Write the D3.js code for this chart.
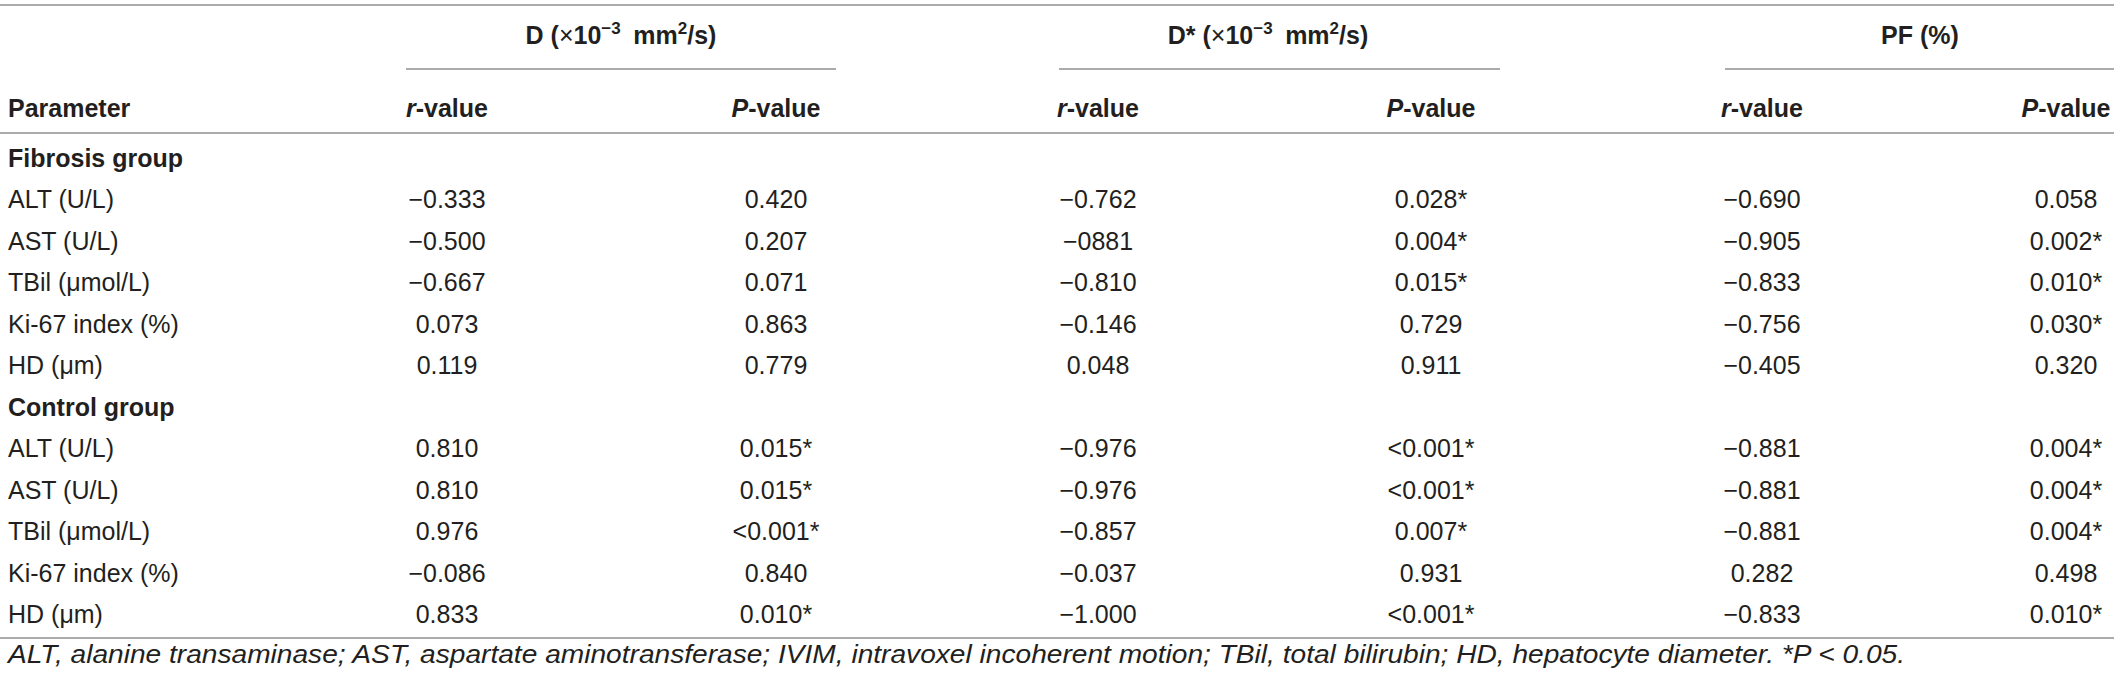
<!DOCTYPE html>
<html>
<head>
<meta charset="utf-8">
<script src="https://cdn.jsdelivr.net/npm/d3@7"></script>
<style>
  html, body { margin: 0; padding: 0; background: #fff; }
  svg { display: block; }
</style>
</head>
<body>
<div id="chart"></div>
<script>
// ---------------- data ----------------
const groups = ["Fibrosis group", "Control group"];
const parameters = ["ALT (U/L)", "AST (U/L)", "TBil (\u03bcmol/L)", "Ki-67 index (%)", "HD (\u03bcm)"];

const measures = ["D", "D*", "PF"];
const subColumns = ["r-value", "P-value"];

// Fibrosis group
const fibD_r   = ["\u22120.333", "\u22120.500", "\u22120.667", "0.073", "0.119"];
const fibD_p   = ["0.420", "0.207", "0.071", "0.863", "0.779"];
const fibDs_r  = ["\u22120.762", "\u22120881", "\u22120.810", "\u22120.146", "0.048"];
const fibDs_p  = ["0.028*", "0.004*", "0.015*", "0.729", "0.911"];
const fibPF_r  = ["\u22120.690", "\u22120.905", "\u22120.833", "\u22120.756", "\u22120.405"];
const fibPF_p  = ["0.058", "0.002*", "0.010*", "0.030*", "0.320"];

// Control group
const ctlD_r   = ["0.810", "0.810", "0.976", "\u22120.086", "0.833"];
const ctlD_p   = ["0.015*", "0.015*", "<0.001*", "0.840", "0.010*"];
const ctlDs_r  = ["\u22120.976", "\u22120.976", "\u22120.857", "\u22120.037", "\u22121.000"];
const ctlDs_p  = ["<0.001*", "<0.001*", "0.007*", "0.931", "<0.001*"];
const ctlPF_r  = ["\u22120.881", "\u22120.881", "\u22120.881", "0.282", "\u22120.833"];
const ctlPF_p  = ["0.004*", "0.004*", "0.004*", "0.498", "0.010*"];

const footnote = "ALT, alanine transaminase; AST, aspartate aminotransferase; IVIM, intravoxel incoherent motion; TBil, total bilirubin; HD, hepatocyte diameter. *P < 0.05.";

// ---------------- build table rows ----------------
const groupValues = [
  [fibD_r, fibD_p, fibDs_r, fibDs_p, fibPF_r, fibPF_p],
  [ctlD_r, ctlD_p, ctlDs_r, ctlDs_p, ctlPF_r, ctlPF_p]
];
const rows = [];
groups.forEach((g, gi) => {
  rows.push({ label: g, isGroup: true, cells: [] });
  parameters.forEach((p, pi) => {
    rows.push({ label: p, isGroup: false, cells: groupValues[gi].map(col => col[pi]) });
  });
});

// ---------------- layout ----------------
const W = 2120, H = 680;
const FONT = "'Liberation Sans', Arial, Helvetica, sans-serif";
const TXT = "#231f20";
const RULE = "#8f8f8f";
const FS = 25;

const svg = d3.select("#chart").append("svg")
  .attr("width", W).attr("height", H)
  .attr("font-family", FONT);

const colKeys = d3.range(6);
const x = d3.scaleOrdinal().domain(colKeys).range([447, 776, 1098, 1431, 1762, 2066]);
const y = d3.scaleBand().domain(d3.range(rows.length)).range([137, 635]);
const rowC = i => y(i) + y.bandwidth() / 2;

const spanX = d3.scaleOrdinal().domain(measures).range([621, 1268, 1920]);
const spanLine = d3.scaleOrdinal().domain(measures).range([[406, 836], [1059, 1500], [1725, 2114]]);

// rules
const ruleG = svg.append("g").attr("stroke", RULE).attr("stroke-width", 1.6);
ruleG.append("line").attr("x1", 0).attr("x2", 2114).attr("y1", 5).attr("y2", 5);
ruleG.append("line").attr("x1", 0).attr("x2", 2114).attr("y1", 133).attr("y2", 133);
ruleG.append("line").attr("x1", 0).attr("x2", 2114).attr("y1", 638).attr("y2", 638);
ruleG.selectAll("line.span").data(measures).join("line").attr("class", "span")
  .attr("x1", d => spanLine(d)[0]).attr("x2", d => spanLine(d)[1])
  .attr("y1", 69).attr("y2", 69);

// spanner headers
const spanG = svg.append("g").attr("fill", TXT).attr("font-size", FS).attr("font-weight", "bold");
measures.forEach(m => {
  const t = spanG.append("text").attr("x", spanX(m)).attr("y", 44).attr("text-anchor", "middle");
  if (m === "PF") {
    t.text("PF (%)");
  } else {
    t.append("tspan").text(m + " (");
    t.append("tspan").attr("font-weight", "normal").text("\u00d7");
    t.append("tspan").text("10");
    t.append("tspan").attr("font-size", 17).attr("dy", -10).text("\u22123");
    t.append("tspan").attr("dy", 10).text("\u2002mm");
    t.append("tspan").attr("font-size", 17).attr("dy", -10).text("2");
    t.append("tspan").attr("dy", 10).text("/s)");
  }
});

// second header row
const hdrG = svg.append("g").attr("fill", TXT).attr("font-size", FS).attr("font-weight", "bold");
hdrG.append("text").attr("x", 8).attr("y", 117).text("Parameter");
colKeys.forEach(c => {
  const t = hdrG.append("text").attr("x", x(c)).attr("y", 117).attr("text-anchor", "middle");
  const sub = subColumns[c % 2];
  t.append("tspan").attr("font-style", "italic").text(sub.split("-")[0]);
  t.append("tspan").text("-" + sub.split("-")[1]);
});

// body rows
const body = svg.append("g").attr("fill", TXT).attr("font-size", FS);
const rowG = body.selectAll("g.row").data(rows).join("g").attr("class", "row")
  .attr("transform", (d, i) => `translate(0,${rowC(i) + 9})`);
rowG.append("text").attr("x", 8)
  .attr("font-weight", d => d.isGroup ? "bold" : "normal")
  .text(d => d.label);
rowG.selectAll("text.cell").data(d => d.cells).join("text").attr("class", "cell")
  .attr("x", (d, i) => x(i)).attr("text-anchor", "middle")
  .text(d => d);

// footnote
svg.append("text").attr("x", 8).attr("y", 663)
  .attr("fill", TXT).attr("font-size", 26).attr("font-style", "italic")
  .attr("textLength", 1897).attr("lengthAdjust", "spacingAndGlyphs")
  .text(footnote);
</script>
</body>
</html>
